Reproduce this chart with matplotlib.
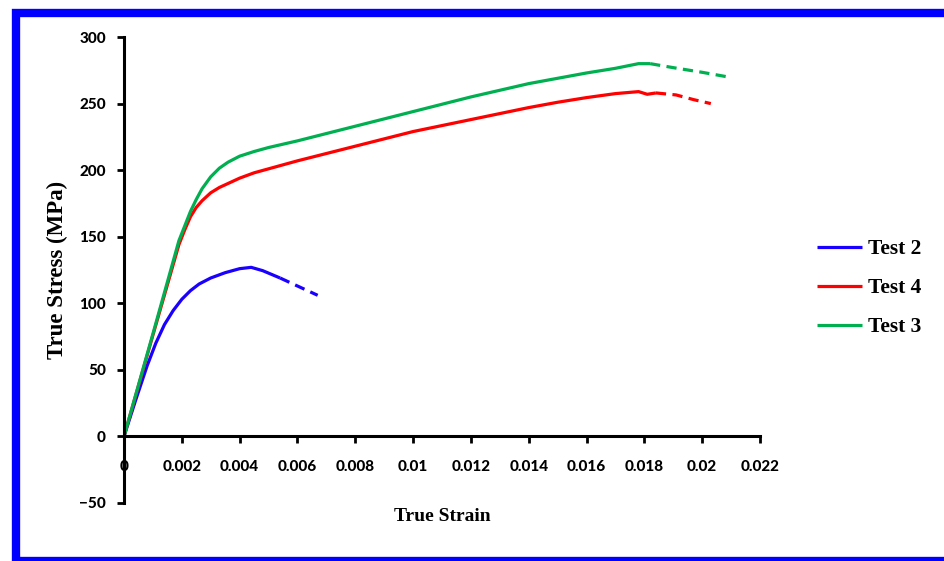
import matplotlib
matplotlib.use("Agg")
import matplotlib.pyplot as plt
from matplotlib.patches import Rectangle
from matplotlib.ticker import FuncFormatter

COLOR_TEST2 = "#1a00ff"
COLOR_TEST4 = "#ff0000"
COLOR_TEST3 = "#00b050"
SERIF = "Liberation Serif"
TICKFONT = "Lato"

# Test 2 (blue)
test2_strain = [0, 0.0004, 0.0008, 0.0011, 0.0014, 0.0017, 0.002, 0.0023, 0.0026, 0.003,
                0.0035, 0.004, 0.0044, 0.0048, 0.0054]
test2_stress = [0, 27, 53, 70, 84, 94.5, 103, 109.5, 114.5, 119,
                123, 126, 127, 124.5, 119]
test2_strain_dash = [0.0054, 0.006, 0.0067]
test2_stress_dash = [119, 113, 106]

# Test 4 (red)
test4_strain = [0, 0.001, 0.0019, 0.0021, 0.0023, 0.0025, 0.0027, 0.003, 0.0033, 0.0036, 0.004,
                0.0045, 0.005, 0.006, 0.008, 0.01, 0.012, 0.014, 0.015, 0.016, 0.017, 0.0178,
                0.0181, 0.0184]
test4_stress = [0, 76, 144, 155, 165, 172, 177, 183, 187, 190, 194,
                198, 201, 207, 218, 229, 238, 247, 251, 254.5, 257.5, 259,
                257, 258]
test4_strain_dash = [0.0184, 0.0191, 0.0197, 0.0203]
test4_stress_dash = [258, 256.5, 253, 250]

# Test 3 (green)
test3_strain = [0, 0.001, 0.0019, 0.0021, 0.0023, 0.0025, 0.0027, 0.003, 0.0033, 0.0036, 0.004,
                0.0045, 0.005, 0.006, 0.008, 0.01, 0.012, 0.014, 0.015, 0.016, 0.017, 0.0178,
                0.0182]
test3_stress = [0, 77, 147, 158, 169, 178, 186, 195, 201.5, 206, 210.5,
                214, 217, 222, 233, 244, 255, 265, 269, 273, 276.5, 280,
                280]
test3_strain_dash = [0.0182, 0.019, 0.02, 0.0209]
test3_stress_dash = [280, 277, 273.5, 270]

x_ticks = [0, 0.002, 0.004, 0.006, 0.008, 0.01, 0.012, 0.014, 0.016, 0.018, 0.02, 0.022]
y_ticks = [-50, 0, 50, 100, 150, 200, 250, 300]

fig = plt.figure(figsize=(9.45, 5.61), dpi=100)
ax = fig.add_axes([0.1312, 0.1034, 0.673, 0.8306])

lw = 2.3
dash = (3.2, 2.0)
ax.plot(test2_strain, test2_stress, color=COLOR_TEST2, lw=lw, label="Test 2", solid_capstyle="butt")
ax.plot(test2_strain_dash, test2_stress_dash, color=COLOR_TEST2, lw=lw, dashes=dash)
ax.plot(test4_strain, test4_stress, color=COLOR_TEST4, lw=lw, label="Test 4", solid_capstyle="butt")
ax.plot(test4_strain_dash, test4_stress_dash, color=COLOR_TEST4, lw=lw, dashes=dash)
ax.plot(test3_strain, test3_stress, color=COLOR_TEST3, lw=lw, label="Test 3", solid_capstyle="butt")
ax.plot(test3_strain_dash, test3_stress_dash, color=COLOR_TEST3, lw=lw, dashes=dash)

ax.set_xlim(0, 0.022)
ax.set_ylim(-50, 300)

# Spines crossing at the origin
ax.spines["top"].set_visible(False)
ax.spines["right"].set_visible(False)
ax.spines["bottom"].set_position(("data", 0))
for s in ["left", "bottom"]:
    ax.spines[s].set_linewidth(2.2)

ax.set_xticks(x_ticks)
ax.set_yticks(y_ticks)
ax.xaxis.set_major_formatter(FuncFormatter(lambda v, p: "{:.3f}".format(v).rstrip("0").rstrip(".") if v != 0 else "0"))
ax.tick_params(axis="both", direction="out", length=5, width=2)
ax.tick_params(axis="x", pad=12)
ax.tick_params(axis="y", pad=8)
for lab in ax.get_xticklabels() + ax.get_yticklabels():
    lab.set_fontfamily(TICKFONT)
    lab.set_fontweight(900)
    lab.set_fontsize(11)

ax.set_xlabel("True Strain", fontfamily=SERIF, fontweight="bold", fontsize=14)
ax.set_ylabel("True Stress (MPa)", fontfamily=SERIF, fontweight="bold", fontsize=16.5)
ax.xaxis.set_label_coords(0.5, -0.01)
ax.yaxis.set_label_coords(-0.088, 0.5)

ax.legend(loc="upper left", bbox_to_anchor=(0.8646, 0.574), bbox_transform=fig.transFigure,
          frameon=False, borderpad=0, borderaxespad=0, handlelength=2.1, handletextpad=0.28,
          labelspacing=0.88, prop={"family": SERIF, "weight": "bold", "size": 15.5})

# Blue frame round the figure
fig.patches.append(Rectangle((16 / 945, 1 - 561 / 561), 930 / 945, (561 - 12.5) / 561,
                             transform=fig.transFigure, fill=False, edgecolor="#0000ff",
                             linewidth=6, zorder=10))

fig.savefig("out.png", dpi=100)
